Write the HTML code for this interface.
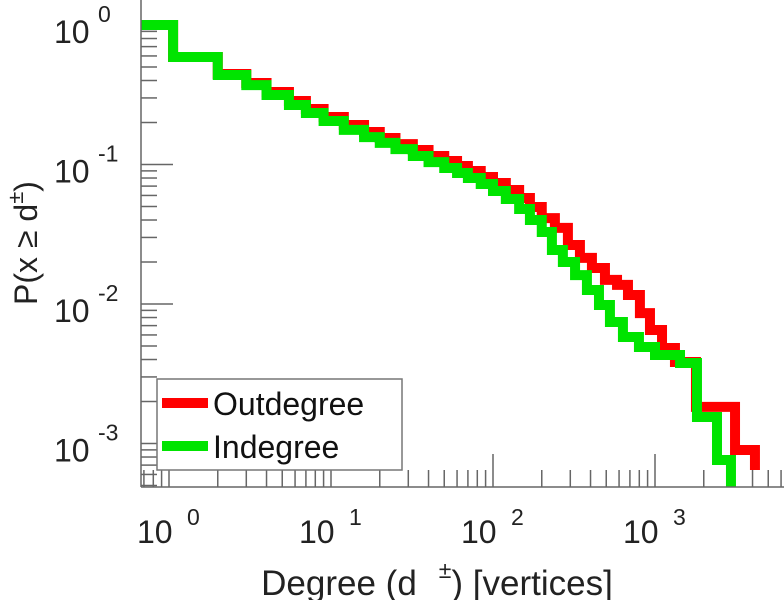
<!DOCTYPE html>
<html><head><meta charset="utf-8"><style>
html,body{margin:0;padding:0;background:#fff;}
svg{display:block;font-family:"Liberation Sans",Arial,sans-serif;}
</style></head><body>
<svg id="chart" width="784" height="600" viewBox="0 0 784 600">
<g id="ticks"></g>
<g id="series"></g>
<line x1="141" y1="0" x2="141" y2="487" stroke="#666" stroke-width="1.5"/>
<line x1="141" y1="487" x2="784" y2="487" stroke="#666" stroke-width="1.5"/>
<g id="labels"></g>
<text x="437" y="595" font-size="35" text-anchor="middle" fill="#222">Degree (d<tspan dx="22" dy="-17" font-size="23">±</tspan><tspan dy="17">) [vertices]</tspan></text>
<text transform="translate(37,243) rotate(-90)" font-size="32" text-anchor="middle" fill="#222">P(x ≥ d<tspan dy="-14" font-size="22">±</tspan><tspan dy="14">)</tspan></text>
<g>
<rect x="157" y="379" width="245" height="91" fill="#fff" stroke="#777" stroke-width="1.5"/>
<line x1="162" y1="403" x2="208" y2="403" stroke="#ff0000" stroke-width="10"/>
<text x="213" y="415" font-size="32" fill="#111">Outdegree</text>
<line x1="162" y1="446" x2="208" y2="446" stroke="#00e400" stroke-width="10"/>
<text x="213" y="458" font-size="32" fill="#111">Indegree</text>
</g>
</svg>
<script>
const outDegree = [1,1.06,2,3,4,5.5,7,9,12,16,20,25,32,40,50,60,70,84,100,120,145,169,200,241,290,344,408,491,583,681,807,931,1105,1328,1790,3119,4140];
const outProb = [1,0.59,0.445,0.384,0.331,0.285,0.25,0.219,0.192,0.171,0.155,0.140,0.127,0.115,0.106,0.0976,0.0898,0.0813,0.0737,0.0656,0.0575,0.0496,0.0413,0.0351,0.0265,0.0214,0.0181,0.0149,0.0137,0.0116,0.0086,0.00651,0.00484,0.00384,0.00183,0.000898,0.000646];
const inDegree = [1,1.06,2,3,4,5.5,7,9,12,16,20,25,32,40,50,60,70,84,100,120,145,169,200,231,270,321,380,451,527,634,796,1000,1427,1816,2414,2944];
const inProb = [1,0.59,0.438,0.371,0.315,0.267,0.234,0.205,0.177,0.157,0.143,0.129,0.115,0.104,0.0944,0.0869,0.080,0.0725,0.0646,0.0566,0.048,0.040,0.0328,0.0244,0.020,0.0161,0.0126,0.00984,0.00743,0.0058,0.00492,0.00431,0.00378,0.00155,0.000762,0.0004];
const xTickExps = [0,1,2,3];
const yTickExps = [0,-1,-2,-3];
const xTickLabels = ["0","1","2","3"];
const yTickLabels = ["0","-1","-2","-3"];

const NS="http://www.w3.org/2000/svg";
const X0=141,X1=784,Y0=0,Y1=487;
const xDec=162, xOrig=169, yDec=139.5, yOrig=25;
function xs(d){return xOrig+Math.log10(d)*xDec;}
function ys(p){return yOrig-Math.log10(p)*yDec;}
const xMin=Math.pow(10,(X0-xOrig)/xDec), xMax=Math.pow(10,(X1-xOrig)/xDec);
const yMin=Math.pow(10,-(Y1-yOrig)/yDec);

const tg=document.getElementById('ticks');
function tick(x1,y1,x2,y2,name){
  const l=document.createElementNS(NS,'line');
  l.setAttribute('x1',x1);l.setAttribute('y1',y1);l.setAttribute('x2',x2);l.setAttribute('y2',y2);
  l.setAttribute('stroke','#666');l.setAttribute('stroke-width','1.5');
  
  
  tg.appendChild(l);
}
for(let e=-1;e<=3;e++){for(let m=1;m<=9;m++){const v=m*Math.pow(10,e);if(v<xMin||v>xMax)continue;const x=xs(v);tick(x,Y1,x,Y1-(m===1?33:17),m===1?'x-major-tick':'x-minor-tick');}}
for(let e=-4;e<=0;e++){for(let m=1;m<=9;m++){const v=m*Math.pow(10,e);if(v<yMin||v>1.0001)continue;const y=ys(v);tick(X0,y,X0+(m===1?32:16),y,m===1?'y-major-tick':'y-minor-tick');}}

const lg=document.getElementById('labels');
xTickExps.forEach((e,i)=>{
  const x=xs(Math.pow(10,e));
  const t=document.createElementNS(NS,'text');
  t.setAttribute('x',x-32);t.setAttribute('y',543);t.setAttribute('font-size','32');t.setAttribute('fill','#222');
  t.innerHTML='10<tspan x="'+(x+18)+'" y="525" font-size="23">'+xTickLabels[i]+'</tspan>';
  
  
  lg.appendChild(t);
});
yTickExps.forEach((e,i)=>{
  const y=ys(Math.pow(10,e));
  const t=document.createElementNS(NS,'text');
  t.setAttribute('x',54);t.setAttribute('y',y+18);t.setAttribute('font-size','32');t.setAttribute('fill','#222');
  t.innerHTML='10<tspan x="98" y="'+(y-3)+'" font-size="23">'+yTickLabels[i]+'</tspan>';
  
  
  lg.appendChild(t);
});

const sg=document.getElementById('series');
function stepPath(ds,ps){
  let d='M'+X0+','+ys(ps[0]);
  for(let i=1;i<ds.length;i++){const x=xs(ds[i]);d+=' L'+x+','+ys(ps[i-1])+' L'+x+','+ys(ps[i]);}
  return d;
}
const cp=document.createElementNS(NS,'clipPath');cp.setAttribute('id','clip');
const cr=document.createElementNS(NS,'rect');cr.setAttribute('x',X0);cr.setAttribute('y',0);cr.setAttribute('width',X1-X0);cr.setAttribute('height',Y1);
cp.appendChild(cr);document.getElementById('chart').appendChild(cp);
[[outDegree,outProb,'#ff0000','outdegree-line'],[inDegree,inProb,'#00e400','indegree-line']].forEach(s=>{
  const p=document.createElementNS(NS,'path');
  p.setAttribute('d',stepPath(s[0],s[1]));
  p.setAttribute('fill','none');p.setAttribute('stroke',s[2]);p.setAttribute('stroke-width','10');
  p.setAttribute('stroke-linejoin','miter');p.setAttribute('clip-path','url(#clip)');
  
  
  sg.appendChild(p);
});
</script>
</body></html>
